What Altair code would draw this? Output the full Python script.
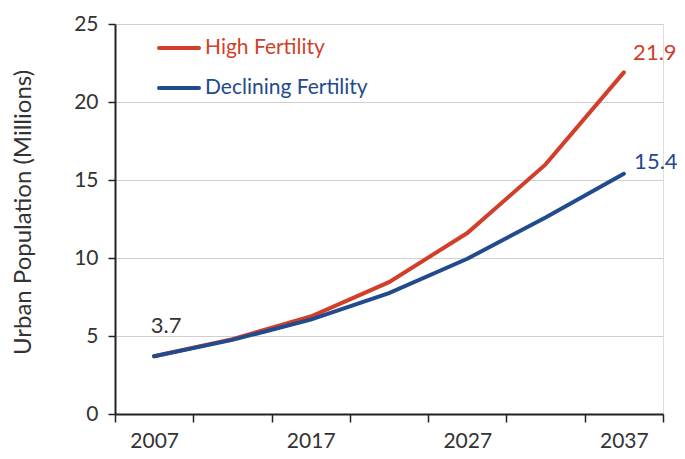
import altair as alt
import pandas as pd

years = ["2007", "2012", "2017", "2022", "2027", "2032", "2037"]
high_fertility = [3.7, 4.8, 6.25, 8.45, 11.6, 16.0, 21.9]
declining_fertility = [3.7, 4.75, 6.05, 7.75, 9.95, 12.6, 15.4]
series_names = ["High Fertility", "Declining Fertility"]
series_colors = ["#D13F2A", "#214B8C"]
label_years = ["2007", "2017", "2027", "2037"]
y_ticks = [0, 5, 10, 15, 20, 25]

rows = []
for y, h, d in zip(years, high_fertility, declining_fertility):
    rows.append({"year": y, "series": series_names[0], "value": h})
    rows.append({"year": y, "series": series_names[1], "value": d})
df = pd.DataFrame(rows)

FONT = "Lato"
TXT = "#333333"
label_list = ",".join("'%s'" % y for y in label_years)

x_enc = alt.X(
    "year:O",
    sort=years,
    scale=alt.Scale(type="band", paddingInner=0, paddingOuter=0),
    bandPosition=0.5,
    axis=alt.Axis(
        title=None,
        tickBand="extent",
        labelExpr="indexof([%s], datum.label) >= 0 ? datum.label : ''" % label_list,
        labelAngle=0,
        labelFontSize=21,
        labelColor=TXT,
        labelFont=FONT,
        labelPadding=8,
        tickSize=8,
        tickColor="#222222",
        tickWidth=1.5,
        domainColor="#222222",
        domainWidth=2,
        grid=False,
    ),
)
y_scale = alt.Scale(domain=[0, 25], nice=False)
y_enc = alt.Y(
    "value:Q",
    scale=y_scale,
    axis=alt.Axis(
        title="Urban Population (Millions)",
        titleFontSize=24,
        titleFontWeight="normal",
        titleColor=TXT,
        titleFont=FONT,
        titleX=-92,
        titleY=188,
        titleAngle=-90,
        titleAlign="center",
        titleBaseline="middle",
        values=y_ticks,
        labelFontSize=21,
        labelColor=TXT,
        labelFont=FONT,
        labelPadding=10,
        tickSize=7,
        tickColor="#222222",
        tickWidth=1.5,
        domainColor="#222222",
        domainWidth=2,
        grid=True,
        gridColor="#CFCFCF",
        gridWidth=1,
    ),
)
color_scale = alt.Scale(domain=series_names, range=series_colors)

lines = alt.Chart(df).mark_line(strokeWidth=4, strokeCap="round").encode(
    x=x_enc,
    y=y_enc,
    color=alt.Color("series:N", scale=color_scale, legend=None),
    detail="series:N",
)

end_high = pd.DataFrame({"year": [years[-1]], "value": [high_fertility[-1]]})
end_dec = pd.DataFrame({"year": [years[-1]], "value": [declining_fertility[-1]]})
start = pd.DataFrame({"year": [years[0]], "value": [high_fertility[0]]})


def val_text(data, dx, dy, color):
    return alt.Chart(data).mark_text(
        fontSize=22, font=FONT, dx=dx, dy=dy, align="center", baseline="middle", color=color
    ).encode(
        x=alt.X("year:O", sort=years, bandPosition=0.5),
        y=alt.Y("value:Q", scale=y_scale),
        text=alt.Text("value:Q", format=".1f"),
    )


t_high = val_text(end_high, 31, -19, series_colors[0])
t_dec = val_text(end_dec, 32, -12, series_colors[1])
t_start = val_text(start, 12, -30, TXT)

legend_df = pd.DataFrame({"series": series_names, "ypix": [24, 64]})
leg_lines = alt.Chart(legend_df).mark_rule(strokeWidth=4, strokeCap="round").encode(
    x=alt.value(44), x2=alt.value(84),
    y=alt.Y("ypix:Q", scale=None),
    color=alt.Color("series:N", scale=color_scale, legend=None),
)
leg_text = alt.Chart(legend_df).mark_text(
    align="left", baseline="middle", fontSize=21, font=FONT
).encode(
    x=alt.value(90),
    y=alt.Y("ypix:Q", scale=None),
    text="series:N",
    color=alt.Color("series:N", scale=color_scale, legend=None),
)

chart = alt.layer(lines, t_high, t_dec, t_start, leg_lines, leg_text).properties(
    width=548,
    height=390,
    autosize=alt.AutoSizeParams(type="none"),
    padding={"left": 107, "top": 16, "right": 14, "bottom": 37},
).configure_view(stroke=None).configure(background="white")

chart.save("out.html", embed_options={"renderer": "svg", "actions": False})
